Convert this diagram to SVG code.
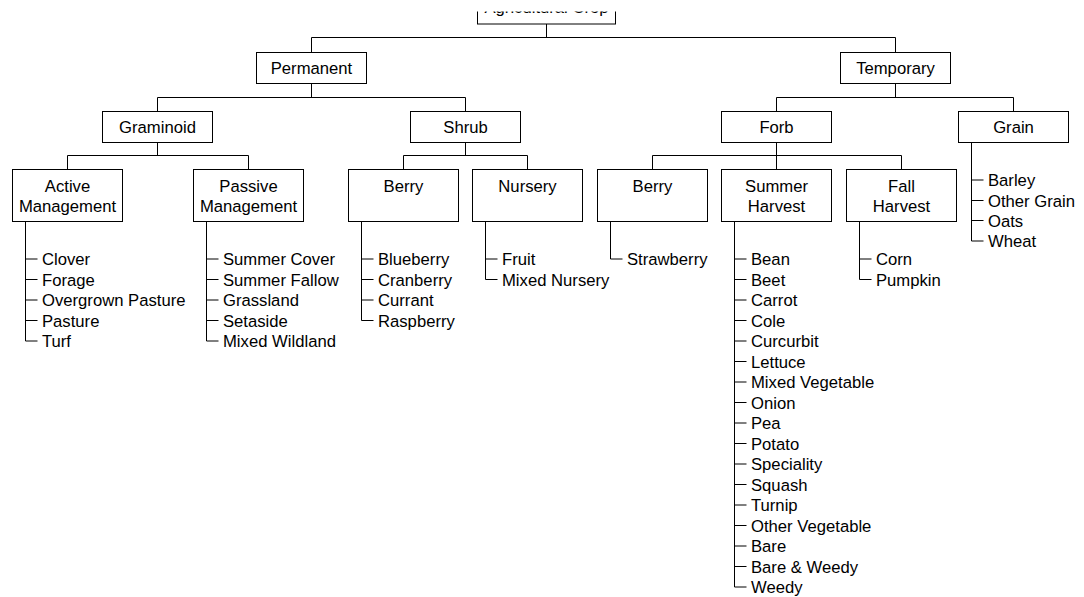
<svg xmlns="http://www.w3.org/2000/svg" width="1084" height="597" viewBox="0 0 1084 597">
<style>
.box{fill:#fff;stroke:#000;stroke-width:1}
.ln{fill:none;stroke:#000;stroke-width:1}
text{font-family:"Liberation Sans",Arial,sans-serif;font-size:16.67px;fill:#000}
.c{text-anchor:middle}
</style>
<defs><clipPath id="topcut"><rect x="0" y="11.5" width="1084" height="600"/></clipPath></defs>
<rect width="1084" height="597" fill="#fff"/>
<g id="connectors" class="ln">
<path d="M546.5 24V37.5M311.5 52V37.5H895.5V52"/>
<path d="M311.5 83.5V97.5M157.5 111V97.5H465.5V111"/>
<path d="M895.5 83.5V97.5M776.5 111V97.5H1013.5V111"/>
<path d="M157.5 142.5V155.5M67.5 169V155.5H248.5V169"/>
<path d="M465.5 142.5V155.5M403.5 169V155.5H527.5V169"/>
<path d="M776.5 142.5V169M652.5 169V155.5H901.5V169"/>
</g>
<g id="n-root" clip-path="url(#topcut)"><rect class="box" x="477.5" y="-7.5" width="138" height="31.5"/><text class="c" x="546.5" y="13.3">Agricultural Crop</text></g>
<g id="n-permanent"><rect class="box" x="256.5" y="52.5" width="110" height="31"/><text class="c" x="311.5" y="73.5">Permanent</text></g>
<g id="n-temporary"><rect class="box" x="840.5" y="52.5" width="110" height="31"/><text class="c" x="895.5" y="73.5">Temporary</text></g>
<g id="n-graminoid"><rect class="box" x="102.5" y="111.5" width="110" height="31"/><text class="c" x="157.5" y="132.5">Graminoid</text></g>
<g id="n-shrub"><rect class="box" x="410.5" y="111.5" width="110" height="31"/><text class="c" x="465.5" y="132.5">Shrub</text></g>
<g id="n-forb"><rect class="box" x="721.5" y="111.5" width="110" height="31"/><text class="c" x="776.5" y="132.5">Forb</text></g>
<g id="n-grain"><rect class="box" x="958.5" y="111.5" width="110" height="31"/><text class="c" x="1013.5" y="132.5">Grain</text>
<path class="ln" d="M971.5 142.5V241H983.5M971.5 180H983.5M971.5 200.5H983.5M971.5 220.5H983.5"/>
<text x="988" y="186">Barley</text><text x="988" y="206.5">Other Grain</text><text x="988" y="226.5">Oats</text><text x="988" y="247">Wheat</text>
</g>
<g id="n-active"><rect class="box" x="12.5" y="169.5" width="110" height="52"/><text class="c" x="67.5" y="191.5">Active</text><text class="c" x="67.5" y="211.5">Management</text>
<path class="ln" d="M25.5 221.5V341H37.5M25.5 259H37.5M25.5 279.5H37.5M25.5 300H37.5M25.5 320.5H37.5"/>
<text x="42" y="265">Clover</text><text x="42" y="285.5">Forage</text><text x="42" y="306">Overgrown Pasture</text><text x="42" y="326.5">Pasture</text><text x="42" y="347">Turf</text>
</g>
<g id="n-passive"><rect class="box" x="193.5" y="169.5" width="110" height="52"/><text class="c" x="248.5" y="191.5">Passive</text><text class="c" x="248.5" y="211.5">Management</text>
<path class="ln" d="M206.5 221.5V341H218.5M206.5 259H218.5M206.5 279.5H218.5M206.5 300H218.5M206.5 320.5H218.5"/>
<text x="223" y="265">Summer Cover</text><text x="223" y="285.5">Summer Fallow</text><text x="223" y="306">Grassland</text><text x="223" y="326.5">Setaside</text><text x="223" y="347">Mixed Wildland</text>
</g>
<g id="n-shrub-berry"><rect class="box" x="348.5" y="169.5" width="110" height="52"/><text class="c" x="403.5" y="191.5">Berry</text>
<path class="ln" d="M361.5 221.5V320.5H373.5M361.5 259H373.5M361.5 279.5H373.5M361.5 300H373.5"/>
<text x="378" y="265">Blueberry</text><text x="378" y="285.5">Cranberry</text><text x="378" y="306">Currant</text><text x="378" y="326.5">Raspberry</text>
</g>
<g id="n-nursery"><rect class="box" x="472.5" y="169.5" width="110" height="52"/><text class="c" x="527.5" y="191.5">Nursery</text>
<path class="ln" d="M485.5 221.5V279.5H497.5M485.5 259H497.5"/>
<text x="502" y="265">Fruit</text><text x="502" y="285.5">Mixed Nursery</text>
</g>
<g id="n-forb-berry"><rect class="box" x="597.5" y="169.5" width="110" height="52"/><text class="c" x="652.5" y="191.5">Berry</text>
<path class="ln" d="M610.5 221.5V259H622.5"/>
<text x="627" y="265">Strawberry</text>
</g>
<g id="n-summer"><rect class="box" x="721.5" y="169.5" width="110" height="52"/><text class="c" x="776.5" y="191.5">Summer</text><text class="c" x="776.5" y="211.5">Harvest</text>
<path class="ln" d="M734.5 221.5V587H746.5M734.5 259H746.5M734.5 279.5H746.5M734.5 300H746.5M734.5 320.5H746.5M734.5 341H746.5M734.5 361.5H746.5M734.5 382H746.5M734.5 402.5H746.5M734.5 423H746.5M734.5 443.5H746.5M734.5 464H746.5M734.5 484.5H746.5M734.5 505H746.5M734.5 525.5H746.5M734.5 546H746.5M734.5 566.5H746.5"/>
<text x="751" y="265">Bean</text><text x="751" y="285.5">Beet</text><text x="751" y="306">Carrot</text><text x="751" y="326.5">Cole</text><text x="751" y="347">Curcurbit</text><text x="751" y="367.5">Lettuce</text><text x="751" y="388">Mixed Vegetable</text><text x="751" y="408.5">Onion</text><text x="751" y="429">Pea</text><text x="751" y="449.5">Potato</text><text x="751" y="470">Speciality</text><text x="751" y="490.5">Squash</text><text x="751" y="511">Turnip</text><text x="751" y="531.5">Other Vegetable</text><text x="751" y="552">Bare</text><text x="751" y="572.5">Bare &amp; Weedy</text><text x="751" y="593">Weedy</text>
</g>
<g id="n-fall"><rect class="box" x="846.5" y="169.5" width="110" height="52"/><text class="c" x="901.5" y="191.5">Fall</text><text class="c" x="901.5" y="211.5">Harvest</text>
<path class="ln" d="M859.5 221.5V279.5H871.5M859.5 259H871.5"/>
<text x="876" y="265">Corn</text><text x="876" y="285.5">Pumpkin</text>
</g>
</svg>
